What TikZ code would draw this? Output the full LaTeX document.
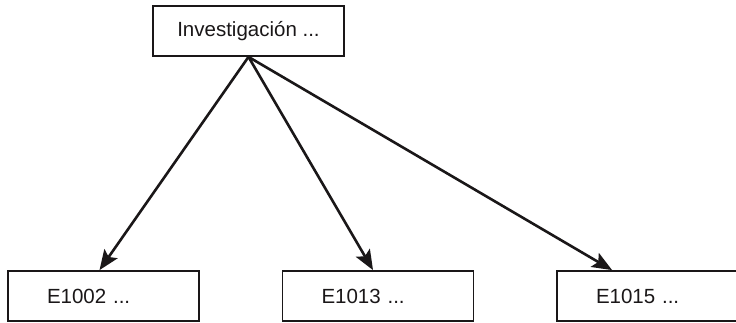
\documentclass[tikz,border=0pt]{standalone}
\usepackage{fontspec}
\setmainfont{Liberation Sans}
\usetikzlibrary{arrows.meta,calc}
\definecolor{ink}{HTML}{1A1718}
\begin{document}
\begin{tikzpicture}[x=1pt,y=1pt,
  box/.style={draw=ink, line width=1.8pt, rectangle, minimum width=191pt, minimum height=50pt,
    text=ink, font=\fontsize{20.5pt}{24pt}\selectfont},
  leafbox/.style={box, inner xsep=39pt, text width=113pt, align=left},
  link/.style={draw=ink, line width=2.6pt, -{Stealth[length=20pt,width=16pt,inset=4pt]}}]
\clip (0,0) rectangle (736,322);
\node[box] (top) at (248.5,291) {Investigación ...};
\node[leafbox] (b1) at (103.5,26) {E1002 ...};
\node[leafbox] (b2) at (378,26) {E1013 ...};
\node[leafbox] (b3) at (652.5,26) {E1015 ...};
\coordinate (t1) at ([xshift=-4pt]b1.north);
\coordinate (t2) at ([xshift=-5pt]b2.north);
\coordinate (t3) at ([xshift=56pt]b3.north west);
\draw[link] (top.south) -- (t1);
\draw[link] (top.south) -- (t2);
\draw[link] (top.south) -- (t3);
\end{tikzpicture}
\end{document}
